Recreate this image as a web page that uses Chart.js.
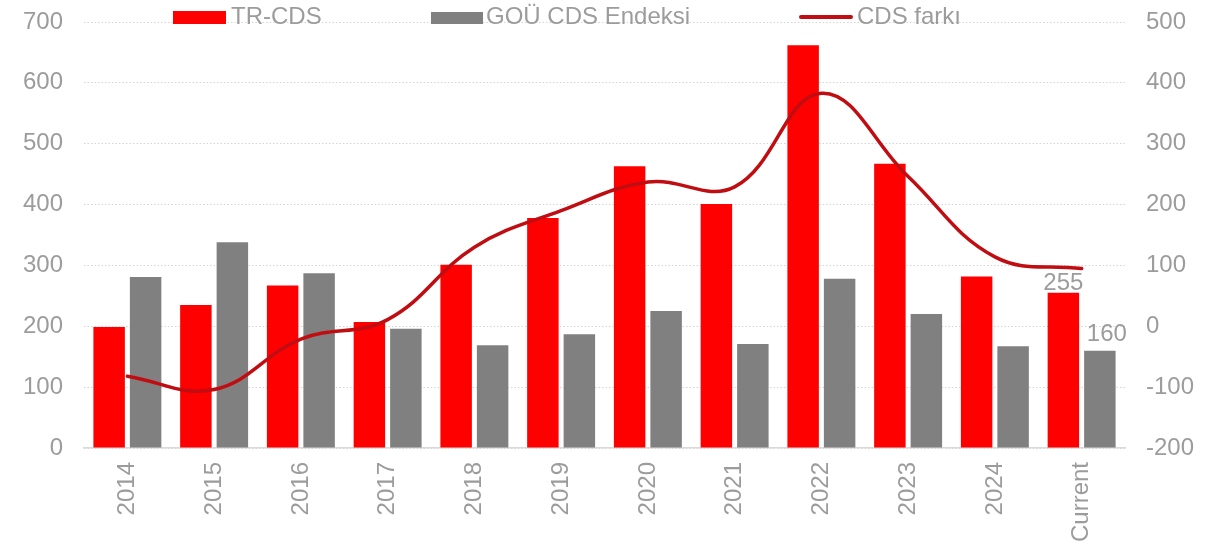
<!DOCTYPE html>
<html>
<head>
<meta charset="utf-8">
<script src="https://cdn.jsdelivr.net/npm/chart.js@4.4.1/dist/chart.umd.min.js"></script>
<style>
html,body{margin:0;padding:0;background:#fff;}
#wrap{position:relative;width:1231px;height:547px;}
</style>
</head>
<body>
<div id="wrap"><canvas id="c" width="1231" height="547"></canvas></div>
<script>
const categories = ['2014','2015','2016','2017','2018','2019','2020','2021','2022','2023','2024','Current'];
const trCds = [199, 235, 267, 207, 301, 378, 463, 401, 662, 467, 282, 255];
const gouCds = [281, 338, 287, 196, 169, 187, 225, 171, 278, 220, 167, 160];
const cdsFarki = [-82, -104, -21, 11, 130, 190, 237, 229, 383, 246, 114, 95];
const leftTicks = [0, 100, 200, 300, 400, 500, 600, 700];
const rightTicks = [-200, -100, 0, 100, 200, 300, 400, 500];
const seriesNames = ['TR-CDS', 'GOÜ CDS Endeksi', 'CDS farkı'];

const FONT = 'Liberation Sans, Arial, sans-serif';
const FS = 24;
const TXT = '#9c9c9c';
Chart.defaults.font.family = FONT;
Chart.defaults.font.size = FS;
Chart.defaults.color = TXT;

function zeroPad(s) { s.paddingTop = 0; s.paddingBottom = 0; s.paddingLeft = 0; s.paddingRight = 0; }

const legendPlugin = {
  id: 'customLegend',
  afterDraw(chart) {
    const ctx = chart.ctx;
    ctx.save();
    ctx.font = FS + 'px ' + FONT;
    ctx.textBaseline = 'middle';
    ctx.textAlign = 'left';
    const y = 17;
    ctx.fillStyle = '#ff0000';
    ctx.fillRect(173, 11, 53, 13);
    ctx.fillStyle = TXT;
    ctx.fillText(chart.data.datasets[0].label, 231, y);
    ctx.fillStyle = '#808080';
    ctx.fillRect(431, 12, 52, 12);
    ctx.fillStyle = TXT;
    ctx.fillText(chart.data.datasets[1].label, 486, y);
    ctx.strokeStyle = '#c00d12';
    ctx.lineWidth = 4;
    ctx.lineCap = 'round';
    ctx.beginPath();
    ctx.moveTo(801, y);
    ctx.lineTo(851, y);
    ctx.stroke();
    ctx.fillStyle = TXT;
    ctx.fillText(chart.data.datasets[2].label, 857, y);
    ctx.restore();
  }
};

const valueLabelPlugin = {
  id: 'valueLabels',
  afterDatasetsDraw(chart) {
    const ctx = chart.ctx;
    const last = categories.length - 1;
    ctx.save();
    ctx.font = FS + 'px ' + FONT;
    ctx.fillStyle = TXT;
    ctx.textAlign = 'center';
    ctx.textBaseline = 'bottom';
    const m0 = chart.getDatasetMeta(0).data[last];
    ctx.fillText(String(trCds[last]), m0.x, m0.y + 3);
    const m1 = chart.getDatasetMeta(1).data[last];
    ctx.fillText(String(gouCds[last]), m1.x + 7, m1.y - 4);
    ctx.restore();
  }
};

new Chart(document.getElementById('c'), {
  type: 'bar',
  data: {
    labels: categories,
    datasets: [
      { label: seriesNames[0], data: trCds, backgroundColor: '#ff0000', yAxisID: 'y', order: 2,
        categoryPercentage: 0.841, barPercentage: 0.863 },
      { label: seriesNames[1], data: gouCds, backgroundColor: '#808080', yAxisID: 'y', order: 3,
        categoryPercentage: 0.841, barPercentage: 0.863 },
      { type: 'line', label: seriesNames[2], data: cdsFarki, yAxisID: 'y2', order: 1,
        borderColor: '#c00d12', borderWidth: 3.5, pointRadius: 0, tension: 0.4, fill: false,
        borderCapStyle: 'round' }
    ]
  },
  options: {
    responsive: false,
    animation: false,
    events: [],
    layout: { padding: { top: 22, left: 0, right: 0, bottom: 0 } },
    plugins: { legend: { display: false }, tooltip: { enabled: false } },
    scales: {
      x: {
        grid: { display: false, drawTicks: false },
        border: { display: true, color: '#d9d9d9', width: 1.5 },
        ticks: { maxRotation: 90, minRotation: 90, padding: 14, color: TXT, font: { size: FS } },
        afterFit(s) { s.height = 99; zeroPad(s); }
      },
      y: {
        position: 'left', min: 0, max: 700,
        afterBuildTicks(s) { s.ticks = leftTicks.map(v => ({ value: v })); },
        grid: { color: '#d4d4d4', lineWidth: 1, drawTicks: false },
        border: { display: false, dash: [1.5, 2] },
        ticks: { padding: 21, color: TXT, font: { size: FS } },
        afterFit(s) { s.width = 84; zeroPad(s); }
      },
      y2: {
        position: 'right', min: -200, max: 500,
        afterBuildTicks(s) { s.ticks = rightTicks.map(v => ({ value: v })); },
        grid: { display: false, drawTicks: false },
        border: { display: false },
        ticks: { padding: 21, color: TXT, font: { size: FS } },
        afterFit(s) { s.width = 106; zeroPad(s); }
      }
    }
  },
  plugins: [valueLabelPlugin, legendPlugin]
});
</script>
</body>
</html>
